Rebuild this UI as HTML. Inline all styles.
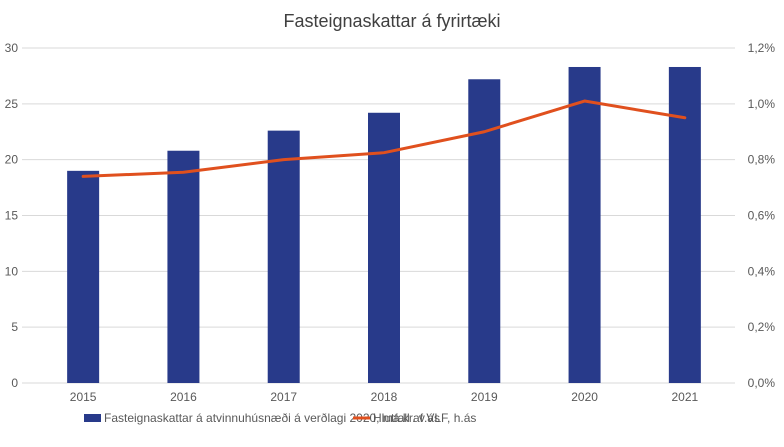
<!DOCTYPE html>
<html><head><meta charset="utf-8"><style>
body{margin:0;background:#fff;font-family:"Liberation Sans",sans-serif}
svg text{font-family:"Liberation Sans",sans-serif}
</style></head><body>
<svg id="c" width="784" height="442">
<text x="392" y="27" text-anchor="middle" font-size="18" fill="#404040">Fasteignaskattar á fyrirtæki</text>
</svg>
<script>
const categories=["2015","2016","2017","2018","2019","2020","2021"];
const barValues=[19.0,20.8,22.6,24.2,27.2,28.3,28.3];
const lineValues=[0.74,0.755,0.80,0.825,0.90,1.01,0.95];
const leftTicks=[0,5,10,15,20,25,30];
const rightTicks=["0,0%","0,2%","0,4%","0,6%","0,8%","1,0%","1,2%"];
const svg=document.getElementById('c');
const NS="http://www.w3.org/2000/svg";
const x0=33,x1=735,yTop=48,yBot=383;
const bw=(x1-x0)/categories.length;
const yL=v=>yBot-(v/30)*(yBot-yTop);
const yR=v=>yBot-(v/1.2)*(yBot-yTop);
const xc=i=>x0+bw*(i+0.5);
function mk(t,a){const e=document.createElementNS(NS,t);for(const k in a)e.setAttribute(k,a[k]);svg.appendChild(e);return e;}
leftTicks.forEach((v,i)=>{
 const g=mk('line',{x1:22,x2:735,y1:yL(v),y2:yL(v),stroke:'#d9d9d9','stroke-width':1});
 
 
 const t=mk('text',{x:18,y:yL(v)+4,'text-anchor':'end','font-size':12,fill:'#595959'});t.textContent=v;
 
 
 const r=mk('text',{x:775,y:yL(v)+4,'text-anchor':'end','font-size':12,fill:'#595959'});r.textContent=rightTicks[i];
 
 
});
categories.forEach((c,i)=>{
 const b=mk('rect',{x:xc(i)-16,y:yL(barValues[i]),width:32,height:yBot-yL(barValues[i]),fill:'#283a8a'});
 
 
 const t=mk('text',{x:xc(i),y:401,'text-anchor':'middle','font-size':12,fill:'#595959'});t.textContent=c;
 
 
});
const p=mk('polyline',{points:lineValues.map((v,i)=>xc(i)+','+yR(v)).join(' '),fill:'none',stroke:'#e0501e','stroke-width':3,'stroke-linejoin':'round','stroke-linecap':'round'});


</script>
<svg style="position:absolute;left:0;top:0" width="784" height="442">
<rect x="84" y="414" width="17" height="8" fill="#283a8a"/>
<text x="104" y="422" font-size="12" fill="#595959">Fasteignaskattar á atvinnuhúsnæði á verðlagi 2020, ma.kr. v.ás</text>
<line x1="353" x2="370" y1="418" y2="418" stroke="#e0501e" stroke-width="3"/>
<text x="373" y="422" font-size="12" fill="#595959">Hlutfall af VLF, h.ás</text>
</svg>
</body></html>
